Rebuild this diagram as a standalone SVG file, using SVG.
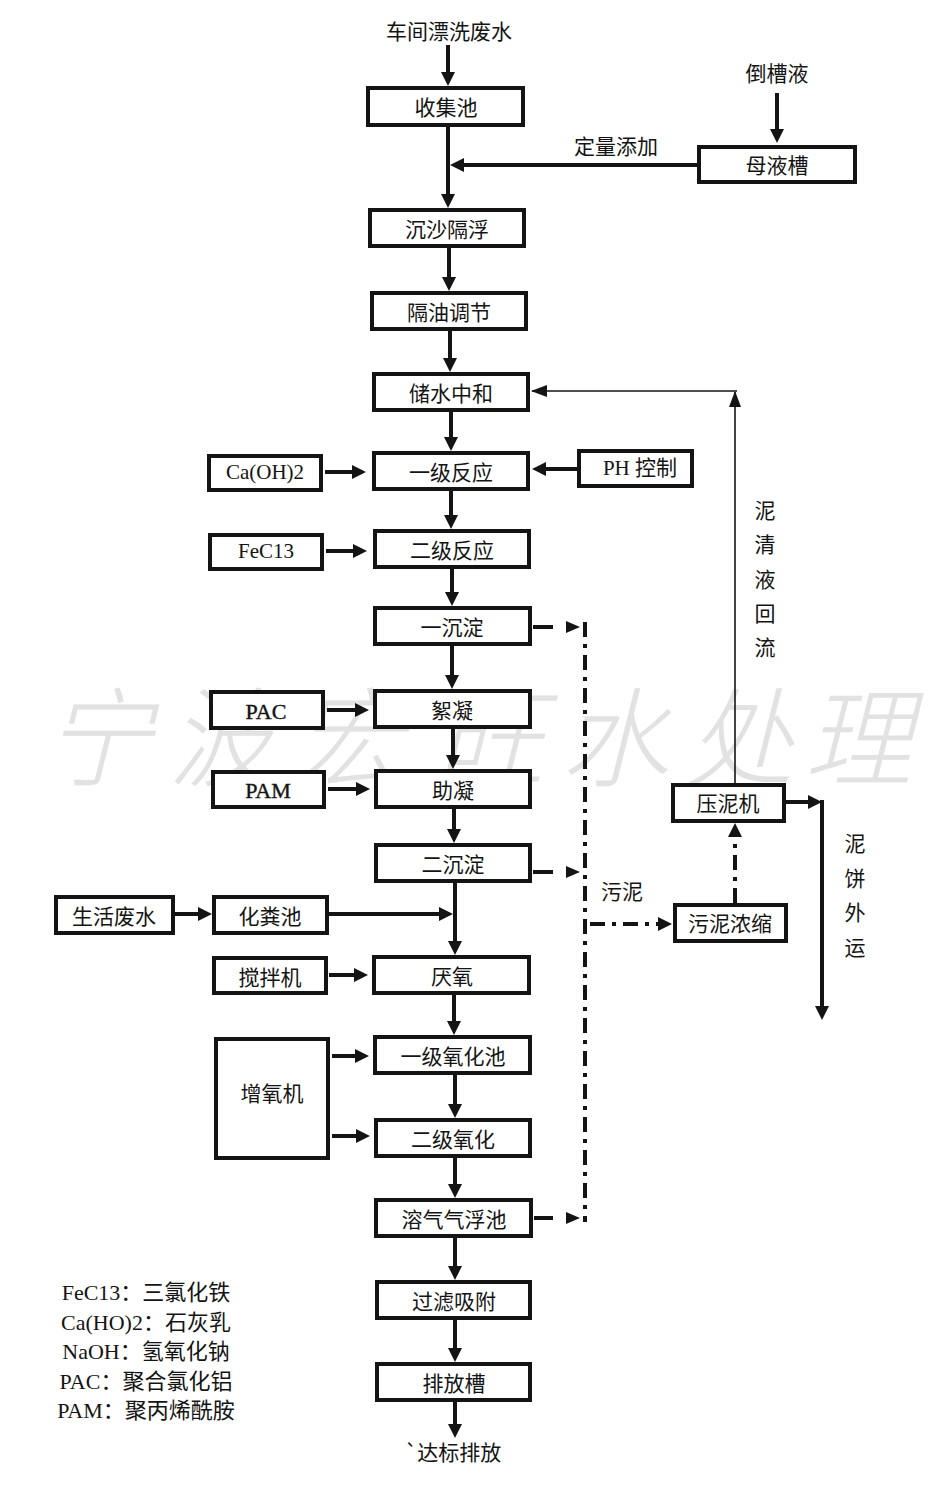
<svg xmlns="http://www.w3.org/2000/svg" width="929" height="1500" viewBox="0 0 929 1500">
<style>
.bx{fill:#fff;stroke:#141414;stroke-width:4}
.t{font-family:"Noto Sans CJK SC",sans-serif;font-size:21px;text-anchor:middle;dominant-baseline:central;fill:#141414}
.lat{font-family:"Liberation Serif","Noto Sans CJK SC",serif}
.pa{font-family:"Liberation Serif",serif;font-size:22px;stroke:#141414;stroke-width:0.4}
.lg{font-family:"Liberation Serif","Noto Sans CJK SC",serif;font-size:22px;text-anchor:middle;fill:#141414}
.c{stroke:#141414;stroke-width:4;fill:none}
.thin{stroke:#141414;stroke-width:1.6;fill:none}
.dd{stroke-dasharray:15 7 4 7}
.wm{font-family:"Noto Sans CJK SC",sans-serif;font-size:108px;font-weight:300;font-style:italic;fill:#e2e2e2;text-anchor:middle}
</style>
<defs>
<marker id="ah" markerUnits="userSpaceOnUse" markerWidth="14" markerHeight="14" refX="6" refY="7" orient="auto"><path d="M0,0 L14,7 L0,14 z" fill="#141414"/></marker>
<marker id="as" markerUnits="userSpaceOnUse" markerWidth="16" markerHeight="12" refX="15" refY="6" orient="auto"><path d="M0,0 L16,6 L0,12 z" fill="#141414"/></marker>
</defs>
<rect width="929" height="1500" fill="#fff"/>
<g id="watermark">
<text class="wm" x="98" y="778">宁</text>
<text class="wm" x="222" y="778">波</text>
<text class="wm" x="350" y="778">宏</text>
<text class="wm" x="490" y="778">旺</text>
<text class="wm" x="615" y="778">水</text>
<text class="wm" x="740" y="778">处</text>
<text class="wm" x="858" y="778">理</text>
</g>
<g id="connectors">
<path class="c" d="M448,45 V78" marker-end="url(#ah)"/>
<path class="c" d="M448,127 V200" marker-end="url(#ah)"/>
<path class="c" d="M697,165 H458" marker-end="url(#ah)"/>
<path class="c" d="M777,93 V135" marker-end="url(#ah)"/>
<path class="c" d="M449,248 V283" marker-end="url(#ah)"/>
<path class="c" d="M450,331 V364" marker-end="url(#ah)"/>
<path class="c" d="M451,412 V443" marker-end="url(#ah)"/>
<path class="c" d="M451,491 V521" marker-end="url(#ah)"/>
<path class="c" d="M452,569 V598" marker-end="url(#ah)"/>
<path class="c" d="M452,646 V681" marker-end="url(#ah)"/>
<path class="c" d="M453,729 V761" marker-end="url(#ah)"/>
<path class="c" d="M454,809 V835" marker-end="url(#ah)"/>
<path class="c" d="M455,883 V947" marker-end="url(#ah)"/>
<path class="c" d="M329,914 H445" marker-end="url(#ah)"/>
<path class="c" d="M175,914 H204" marker-end="url(#ah)"/>
<path class="c" d="M454,995 V1027" marker-end="url(#ah)"/>
<path class="c" d="M455,1075 V1110" marker-end="url(#ah)"/>
<path class="c" d="M455,1158 V1190" marker-end="url(#ah)"/>
<path class="c" d="M455,1238 V1272" marker-end="url(#ah)"/>
<path class="c" d="M455,1320 V1354" marker-end="url(#ah)"/>
<path class="c" d="M455,1402 V1430" marker-end="url(#ah)"/>
<path class="c" d="M325,472 H358" marker-end="url(#ah)"/>
<path class="c" d="M577,469 H540" marker-end="url(#ah)"/>
<path class="c" d="M326,551 H359" marker-end="url(#ah)"/>
<path class="c" d="M327,710 H361" marker-end="url(#ah)"/>
<path class="c" d="M328,789 H362" marker-end="url(#ah)"/>
<path class="c" d="M329,975 H360" marker-end="url(#ah)"/>
<path class="c" d="M332,1056 H361" marker-end="url(#ah)"/>
<path class="c" d="M332,1136 H362" marker-end="url(#ah)"/>
<path class="c" d="M786,802 H814" marker-end="url(#ah)"/>
<path class="c" d="M822,800 V1012" marker-end="url(#ah)"/>
<path class="thin" d="M735,783 V392" marker-end="url(#as)"/>
<path class="thin" d="M737,391 H532" marker-end="url(#as)"/>
<path class="c" d="M533,627 H553"/>
<polygon points="566,621 580,627 566,633" fill="#141414"/>
<path class="c" d="M533,872 H553"/>
<polygon points="566,866 580,872 566,878" fill="#141414"/>
<path class="c" d="M534,1218 H553"/>
<polygon points="566,1212 580,1218 566,1224" fill="#141414"/>
<path class="c dd" d="M585,622 V1222"/>
<path class="c dd" d="M590,924 H664" marker-end="url(#ah)"/>
<path class="c dd" d="M735,903 V831" marker-end="url(#ah)"/>
</g>
<g id="n1"><rect class="bx" x="368" y="88" width="155" height="37"/><text class="t" x="446" y="106">收集池</text></g>
<g id="n2"><rect class="bx" x="370" y="210" width="154" height="36"/><text class="t" x="447" y="228">沉沙隔浮</text></g>
<g id="n3"><rect class="bx" x="372" y="293" width="154" height="36"/><text class="t" x="449" y="311">隔油调节</text></g>
<g id="n4"><rect class="bx" x="374" y="374" width="154" height="36"/><text class="t" x="451" y="392">储水中和</text></g>
<g id="n5"><rect class="bx" x="374" y="453" width="154" height="36"/><text class="t" x="451" y="471">一级反应</text></g>
<g id="n6"><rect class="bx" x="375" y="531" width="154" height="36"/><text class="t" x="452" y="549">二级反应</text></g>
<g id="n7"><rect class="bx" x="375" y="608" width="155" height="36"/><text class="t" x="452" y="626">一沉淀</text></g>
<g id="n8"><rect class="bx" x="375" y="691" width="155" height="36"/><text class="t" x="452" y="709">絮凝</text></g>
<g id="n9"><rect class="bx" x="376" y="771" width="154" height="36"/><text class="t" x="453" y="789">助凝</text></g>
<g id="n10"><rect class="bx" x="376" y="845" width="154" height="36"/><text class="t" x="453" y="863">二沉淀</text></g>
<g id="n11"><rect class="bx" x="374" y="957" width="155" height="36"/><text class="t" x="452" y="975">厌氧</text></g>
<g id="n12"><rect class="bx" x="375" y="1037" width="155" height="36"/><text class="t" x="453" y="1055">一级氧化池</text></g>
<g id="n13"><rect class="bx" x="376" y="1120" width="154" height="36"/><text class="t" x="453" y="1138">二级氧化</text></g>
<g id="n14"><rect class="bx" x="376" y="1200" width="155" height="36"/><text class="t" x="454" y="1218">溶气气浮池</text></g>
<g id="n15"><rect class="bx" x="377" y="1282" width="153" height="36"/><text class="t" x="454" y="1300">过滤吸附</text></g>
<g id="n16"><rect class="bx" x="377" y="1364" width="153" height="36"/><text class="t" x="454" y="1382">排放槽</text></g>
<g id="mu"><rect class="bx" x="699" y="147" width="156" height="35"/><text class="t" x="777" y="164">母液槽</text></g>
<g id="caoh"><rect class="bx" x="209" y="456" width="112" height="34"/><text class="t lat" x="265" y="472">Ca(OH)2</text></g>
<g id="ph"><rect class="bx" x="579" y="451" width="113" height="35"/><text class="t lat" x="640" y="468">PH 控制</text></g>
<g id="fecl"><rect class="bx" x="210" y="535" width="112" height="34"/><text class="t lat" x="266" y="551">FeC13</text></g>
<g id="pac"><rect class="bx" x="211" y="692" width="112" height="36"/><text class="t pa" x="266" y="711">PAC</text></g>
<g id="pam"><rect class="bx" x="213" y="772" width="111" height="35"/><text class="t pa" x="268" y="790">PAM</text></g>
<g id="shfs"><rect class="bx" x="56" y="897" width="117" height="36"/><text class="t" x="114" y="915">生活废水</text></g>
<g id="hfc"><rect class="bx" x="214" y="897" width="113" height="36"/><text class="t" x="270" y="915">化粪池</text></g>
<g id="jbj"><rect class="bx" x="214" y="958" width="112" height="35"/><text class="t" x="270" y="976">搅拌机</text></g>
<g id="zyj"><rect class="bx" x="216" y="1039" width="112" height="119"/><text class="t" x="272" y="1092">增氧机</text></g>
<g id="ynj"><rect class="bx" x="673" y="785" width="111" height="36"/><text class="t" x="728" y="802">压泥机</text></g>
<g id="wnns"><rect class="bx" x="675" y="905" width="111" height="36"/><text class="t" x="730" y="922">污泥浓缩</text></g>
<g id="labels">
<text class="t" x="449" y="30">车间漂洗废水</text>
<text class="t" x="777" y="72">倒槽液</text>
<text class="t" x="616" y="145">定量添加</text>
<text class="t" x="622" y="890">污泥</text>
<text class="t" x="765" y="509">泥</text>
<text class="t" x="765" y="543">清</text>
<text class="t" x="765" y="578">液</text>
<text class="t" x="765" y="612">回</text>
<text class="t" x="765" y="646">流</text>
<text class="t" x="855" y="842">泥</text>
<text class="t" x="855" y="877">饼</text>
<text class="t" x="855" y="911">外</text>
<text class="t" x="855" y="946">运</text>
<text class="t" x="453" y="1451">`达标排放</text>
</g>
<g id="legend">
<text class="lg" x="146" y="1300">FeC13：三氯化铁</text>
<text class="lg" x="146" y="1330">Ca(HO)2：石灰乳</text>
<text class="lg" x="146" y="1359">NaOH：氢氧化钠</text>
<text class="lg" x="146" y="1389">PAC：聚合氯化铝</text>
<text class="lg" x="146" y="1418">PAM：聚丙烯酰胺</text>
</g>
</svg>
